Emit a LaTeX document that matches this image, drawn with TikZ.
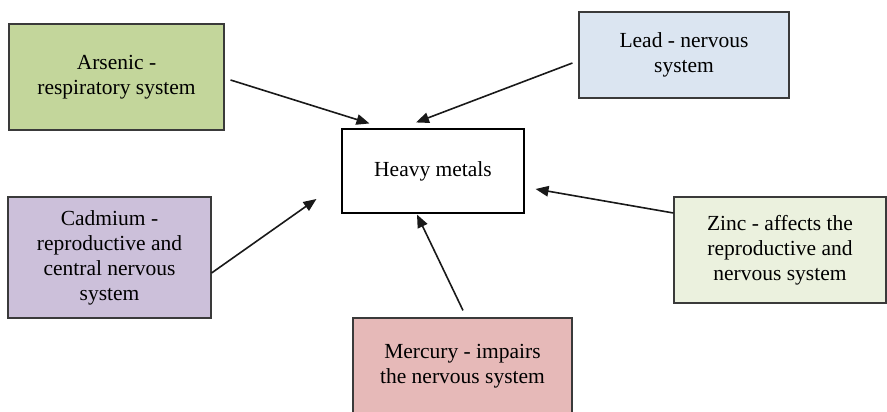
\documentclass[tikz,border=0pt]{standalone}
\usepackage{fontspec}
\setmainfont{Liberation Serif}
\usetikzlibrary{arrows.meta}

\definecolor{arsenicfill}{HTML}{C3D69B}
\definecolor{leadfill}{HTML}{DBE5F1}
\definecolor{cadmiumfill}{HTML}{CCC0DA}
\definecolor{zincfill}{HTML}{EBF1DE}
\definecolor{mercuryfill}{HTML}{E6B9B8}
\definecolor{edgegray}{HTML}{3A3A3A}

\tikzset{
  metalbox/.style={draw=edgegray, line width=1.1pt, rectangle, inner sep=0pt,
    align=center, font=\fontsize{21.5}{25}\selectfont},
  hubbox/.style={metalbox, draw=black, fill=white},
  link/.style={line width=1.6pt, draw=black!90,
    -{Triangle[length=13pt,width=10.5pt]}},
}

\begin{document}
\begin{tikzpicture}[x=1pt, y=-1pt]
  \useasboundingbox (0,0) rectangle (887,412);

  % central node
  \node[hubbox, minimum width=182pt, minimum height=84pt] (hm) at (433,171) {Heavy metals};

  % the five metals around it
  \node[metalbox, fill=arsenicfill, minimum width=215pt, minimum height=106pt]
    (ars) at (116.5,77) {Arsenic -\\respiratory system};
  \node[metalbox, fill=leadfill, minimum width=210pt, minimum height=86pt]
    (lead) at (684,55) {Lead - nervous\\system};
  \node[metalbox, fill=cadmiumfill, minimum width=203pt, minimum height=121pt]
    (cad) at (109.5,257.5) {Cadmium -\\reproductive and\\central nervous\\system};
  \node[metalbox, fill=zincfill, minimum width=212pt, minimum height=106pt]
    (zinc) at (780,250) {Zinc - affects the\\reproductive and\\ nervous system};
  \node[metalbox, fill=mercuryfill, minimum width=219pt, minimum height=96pt]
    (merc) at (462.5,366) {Mercury - impairs\\the nervous system};

  % arrow tips stop just short of the central box
  \coordinate (tipA) at ([shift={(28,-5)}]hm.north west);
  \coordinate (tipL) at ([shift={(-17,-6)}]hm.north);
  \coordinate (tipC) at ([shift={(-25,28)}]hm.west);
  \coordinate (tipZ) at ([shift={(11,18)}]hm.east);
  \coordinate (tipM) at ([shift={(-16,1)}]hm.south);

  % connectors
  \draw[link] ([shift={(6,3)}]ars.east) -- (tipA);
  \draw[link] ([shift={(-6,8)}]lead.west) -- (tipL);
  \draw[link] ([shift={(0,15.5)}]cad.east) -- (tipC);
  \draw[link] ([shift={(0,-37)}]zinc.west) -- (tipZ);
  \draw[link] ([shift={(0.5,-7)}]merc.north) -- (tipM);
\end{tikzpicture}
\end{document}
